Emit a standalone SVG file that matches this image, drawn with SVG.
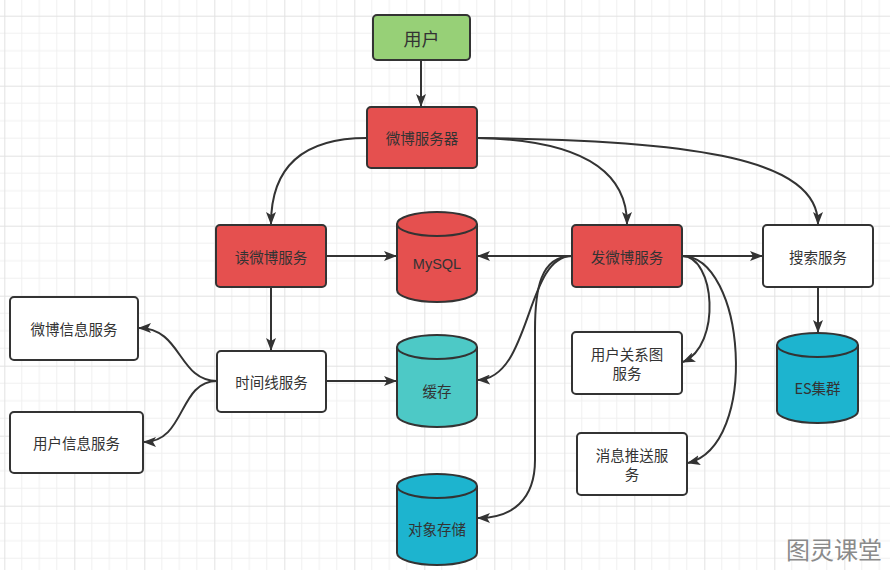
<svg xmlns="http://www.w3.org/2000/svg" width="890" height="570" viewBox="0 0 890 570">
<defs>
<pattern id="grid" patternUnits="userSpaceOnUse" x="4.3" y="15.7" width="70" height="70">
<path d="M17.5,0V70M35,0V70M52.5,0V70M0,17.5H70M0,35H70M0,52.5H70" stroke="#f0f0f0" stroke-width="1" fill="none"/>
<path d="M0.5,0V70M0,0.5H70" stroke="#e2e2e2" stroke-width="1" fill="none"/>
</pattern>
<marker id="arr" viewBox="0 0 13 10" refX="12" refY="5" markerWidth="13" markerHeight="10" markerUnits="userSpaceOnUse" orient="auto">
<path d="M0,0 L13,5 L0,10 L3,5 Z" fill="#333"/>
</marker>
<style>
.box{stroke:#333;stroke-width:2}
.red{fill:#e5504f}
.white{fill:#ffffff}
.green{fill:#97d077}
.teal{fill:#4dc9c6}
.blue{fill:#1db4cf}
.t{font-family:"Noto Sans CJK SC","Liberation Sans",sans-serif;font-size:14.5px;fill:#333;text-anchor:middle;dominant-baseline:central}
.c{fill:none;stroke:#333;stroke-width:2;marker-end:url(#arr)}
</style>
</defs>
<rect width="890" height="570" fill="#ffffff"/>
<rect width="890" height="570" fill="url(#grid)"/>

<g id="connectors">
<path class="c" d="M421,60 L421,106"/>
<path class="c" d="M367,138 C300,138 271,170 271,224"/>
<path class="c" d="M477,138 C580,140 627,170 627,224"/>
<path class="c" d="M477,138 C700,140 818,160 818,224"/>
<path class="c" d="M326,256 L396,256"/>
<path class="c" d="M271,287 L271,350"/>
<path class="c" d="M217,381 C178,381 182,328 139,328"/>
<path class="c" d="M217,381 C178,381 186,442 144,442"/>
<path class="c" d="M326,381 L396,381"/>
<path class="c" d="M572,256 L478,256"/>
<path class="c" d="M572,256 C525,256 532,378 478,380"/>
<path class="c" d="M572,256 C540,256 535,290 535,330 L535,460 C535,500 512,518 478,518"/>
<path class="c" d="M682,256 L762,256"/>
<path class="c" d="M682,256 C715,256 722,345 683,362"/>
<path class="c" d="M682,256 C745,256 760,445 688,463"/>
<path class="c" d="M818,287 L818,332"/>
</g>

<g id="user"><rect class="box green" x="373" y="15" width="97" height="45" rx="4"/><text class="t" x="421.5" y="37.5" style="font-size:18px">用户</text></g>
<g id="weibo-server"><rect class="box red" x="367" y="107" width="110" height="61" rx="4"/><text class="t" x="422" y="137.5">微博服务器</text></g>
<g id="read-service"><rect class="box red" x="216" y="225" width="110" height="62" rx="4"/><text class="t" x="271" y="256">读微博服务</text></g>
<g id="post-service"><rect class="box red" x="572" y="225" width="110" height="62" rx="4"/><text class="t" x="627" y="256">发微博服务</text></g>
<g id="search-service"><rect class="box white" x="763" y="225" width="110" height="62" rx="4"/><text class="t" x="818" y="256">搜索服务</text></g>
<g id="mysql"><path class="box red" d="M397,224 A40,12 0 0 1 477,224 L477,290 A40,12 0 0 1 397,290 Z"/><path d="M397,224 A40,12 0 0 0 477,224" fill="none" stroke="#333" stroke-width="2"/><text class="t" x="437" y="264" style="font-family:'Liberation Sans',sans-serif">MySQL</text></g>
<g id="weibo-info"><rect class="box white" x="10" y="297" width="128" height="63" rx="4"/><text class="t" x="74" y="328.5">微博信息服务</text></g>
<g id="user-info"><rect class="box white" x="10" y="412" width="133" height="61" rx="4"/><text class="t" x="76.5" y="442.5">用户信息服务</text></g>
<g id="timeline"><rect class="box white" x="217" y="351" width="109" height="61" rx="4"/><text class="t" x="271.5" y="381.5">时间线服务</text></g>
<g id="cache"><path class="box teal" d="M397,347 A40,12 0 0 1 477,347 L477,415 A40,12 0 0 1 397,415 Z"/><path d="M397,347 A40,12 0 0 0 477,347" fill="none" stroke="#333" stroke-width="2"/><text class="t" x="437" y="390">缓存</text></g>
<g id="object-storage"><path class="box blue" d="M397,486 A40,12 0 0 1 477,486 L477,553 A40,12 0 0 1 397,553 Z"/><path d="M397,486 A40,12 0 0 0 477,486" fill="none" stroke="#333" stroke-width="2"/><text class="t" x="437" y="528">对象存储</text></g>
<g id="relation"><rect class="box white" x="572" y="332" width="110" height="62" rx="4"/><text class="t" x="627" y="353">用户关系图</text><text class="t" x="627" y="372">服务</text></g>
<g id="push"><rect class="box white" x="577" y="433" width="110" height="62" rx="4"/><text class="t" x="632" y="454">消息推送服</text><text class="t" x="632" y="473">务</text></g>
<g id="es"><path class="box blue" d="M777,345 A40.5,12 0 0 1 858,345 L858,411 A40.5,12 0 0 1 777,411 Z"/><path d="M777,345 A40.5,12 0 0 0 858,345" fill="none" stroke="#333" stroke-width="2"/><text class="t" x="817.5" y="387">ES集群</text></g>
<text x="882" y="559" style="font-family:'Noto Sans CJK SC',sans-serif;font-size:24px;fill:#8a8a8a;text-anchor:end">图灵课堂</text>
</svg>
